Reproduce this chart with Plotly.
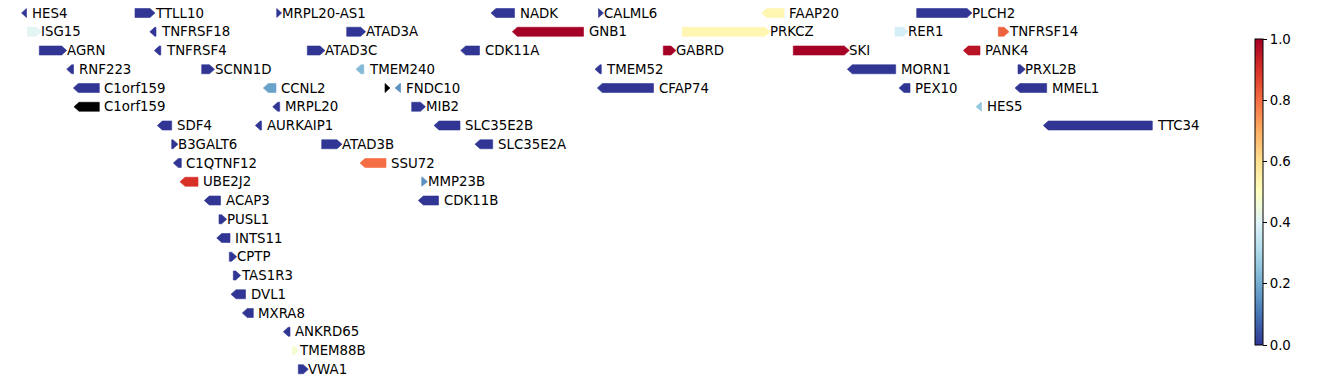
import math
import plotly.graph_objects as go
from plotly.colors import sample_colorscale

# ---- data: gene name, body start, body end, strand, row, score (NaN = no score -> black)
names = ["HES4", "TTLL10", "MRPL20-AS1", "NADK", "CALML6", "FAAP20", "PLCH2",
         "ISG15", "TNFRSF18", "ATAD3A", "GNB1", "PRKCZ", "RER1", "TNFRSF14",
         "AGRN", "TNFRSF4", "ATAD3C", "CDK11A", "GABRD", "SKI", "PANK4",
         "RNF223", "SCNN1D", "TMEM240", "TMEM52", "MORN1", "PRXL2B",
         "C1orf159", "CCNL2", "", "FNDC10", "CFAP74", "PEX10", "MMEL1",
         "C1orf159", "MRPL20", "MIB2", "HES5",
         "SDF4", "AURKAIP1", "SLC35E2B", "TTC34",
         "B3GALT6", "ATAD3B", "SLC35E2A",
         "C1QTNF12", "SSU72",
         "UBE2J2", "MMP23B",
         "ACAP3", "CDK11B",
         "PUSL1", "INTS11", "CPTP", "TAS1R3", "DVL1", "MXRA8", "ANKRD65",
         "TMEM88B", "VWA1"]
starts = [26.5, 135, 276.7, 496, 598.5, 766.7, 916.7,
          27.5, 154.8, 346.7, 517.3, 682.3, 895, 998.3,
          39.3, 159.3, 307.3, 465.7, 663.3, 793.3, 968.3,
          71.7, 201.7, 361, 600, 852.3, 1018,
          78.3, 268.3, 385, 400, 602.3, 904, 1020,
          79, 277.7, 411.7, 981,
          162.3, 260.3, 439, 1048.3,
          171.7, 321.7, 480,
          178.3, 365,
          185, 421.7,
          209.3, 423.3,
          219, 221.7, 229.3, 233.3, 236, 247.3, 288.3,
          292.3, 298.3]
ends = [26.5, 150, 276.7, 514.5, 598.5, 784, 967,
        36.3, 156, 360.7, 583.5, 765, 903.3, 1004,
        61.7, 160.8, 320, 479.5, 671, 844.3, 980,
        73.5, 209.5, 363.8, 601.3, 895.7, 1020.3,
        99.3, 276, 385, 400.5, 653.5, 910, 1046.7,
        99.3, 279.7, 420.5, 981.5,
        171.7, 261.5, 460, 1152.3,
        173, 337, 492.7,
        181.3, 386,
        198, 422.5,
        220.5, 438.5,
        221.7, 230, 231.7, 235.7, 245.5, 253.3, 290,
        294, 303.3]
strands = ["-", "+", "+", "-", "+", "-", "+",
           "+", "-", "+", "-", "+", "+", "+",
           "+", "-", "+", "-", "+", "+", "-",
           "-", "+", "-", "-", "-", "+",
           "-", "-", "+", "-", "-", "-", "-",
           "-", "-", "+", "-",
           "-", "-", "-", "-",
           "+", "+", "-",
           "-", "-",
           "-", "+",
           "-", "-",
           "+", "-", "+", "+", "-", "-", "-",
           "+", "+"]
rows = [0, 0, 0, 0, 0, 0, 0,
        1, 1, 1, 1, 1, 1, 1,
        2, 2, 2, 2, 2, 2, 2,
        3, 3, 3, 3, 3, 3,
        4, 4, 4, 4, 4, 4, 4,
        5, 5, 5, 5,
        6, 6, 6, 6,
        7, 7, 7,
        8, 8,
        9, 9,
        10, 10,
        11, 12, 13, 14, 15, 16, 17,
        18, 19]
NAN = float("nan")
scores = [0, 0, 0, 0, 0, 0.53, 0,
          0.41, 0, 0, 1.0, 0.53, 0.38, 0.82,
          0, 0, 0, 0, 1.0, 1.0, 0.96,
          0, 0, 0.23, 0, 0, 0,
          0, 0.18, NAN, 0.15, 0, 0, 0,
          NAN, 0, 0, 0.26,
          0, 0, 0, 0,
          0, 0, 0,
          0, 0.8,
          0.9, 0.15,
          0, 0,
          0, 0, 0, 0, 0, 0, 0,
          0.47, 0]
colorbar_ticks = [0.0, 0.2, 0.4, 0.6, 0.8, 1.0]
colorbar_ticktext = ["0.0", "0.2", "0.4", "0.6", "0.8", "1.0"]

# ---- style
HEAD = 5.0        # arrow head length (x units)
HALF = 0.24       # half arrow thickness (row units)
FONT = "DejaVu Sans"
FS = 13.33
scale = "RdYlBu_r"
W, H = 1338, 383

fig = go.Figure()
annotations = []
for name, s, e, st, r, v in zip(names, starts, ends, strands, rows, scores):
    if v is None or (isinstance(v, float) and math.isnan(v)):
        col = "#000000"
    else:
        col = sample_colorscale(scale, [v])[0]
    if st == "+":
        xs = [s, e, e + HEAD, e, s, s]
    else:
        xs = [e, s, s - HEAD, s, e, e]
    ys = [r - HALF, r - HALF, r, r + HALF, r + HALF, r - HALF]
    fig.add_trace(go.Scatter(x=xs, y=ys, mode="lines", fill="toself",
                             fillcolor=col, line=dict(color=col, width=0.6),
                             hoverinfo="skip", showlegend=False))
    if name:
        annotations.append(dict(x=e + HEAD, y=r, xref="x", yref="y", text=name,
                                showarrow=False, xanchor="left", yanchor="middle",
                                borderpad=0, borderwidth=0,
                                font=dict(family=FONT, size=FS, color="black")))

# colorbar carrier
fig.add_trace(go.Scatter(x=[None, None], y=[None, None], mode="markers",
                         marker=dict(color=[0, 1], cmin=0, cmax=1, colorscale=scale,
                                     showscale=True,
                                     colorbar=dict(x=1255 / W, xanchor="left", xpad=0,
                                                   y=1 - 192 / H, yanchor="middle", ypad=0,
                                                   len=306, lenmode="pixels",
                                                   thickness=8, thicknessmode="pixels",
                                                   outlinewidth=1, outlinecolor="black",
                                                   ticks="outside", ticklen=4, tickwidth=1,
                                                   tickcolor="black",
                                                   tickvals=colorbar_ticks,
                                                   ticktext=colorbar_ticktext,
                                                   tickfont=dict(family=FONT, size=FS, color="black"))),
                         hoverinfo="skip", showlegend=False))

row_px = 18.75
fig.update_layout(width=W, height=H, margin=dict(l=0, r=0, t=0, b=0),
                  paper_bgcolor="white", plot_bgcolor="white",
                  annotations=annotations, showlegend=False,
                  xaxis=dict(visible=False, range=[0, W], fixedrange=True),
                  yaxis=dict(visible=False,
                             range=[(H - 13) / row_px, -13 / row_px],
                             fixedrange=True))

fig.write_html("out.html", config={"displayModeBar": False},
               post_script="document.body.style.margin='0px';document.body.style.overflow='hidden';")
